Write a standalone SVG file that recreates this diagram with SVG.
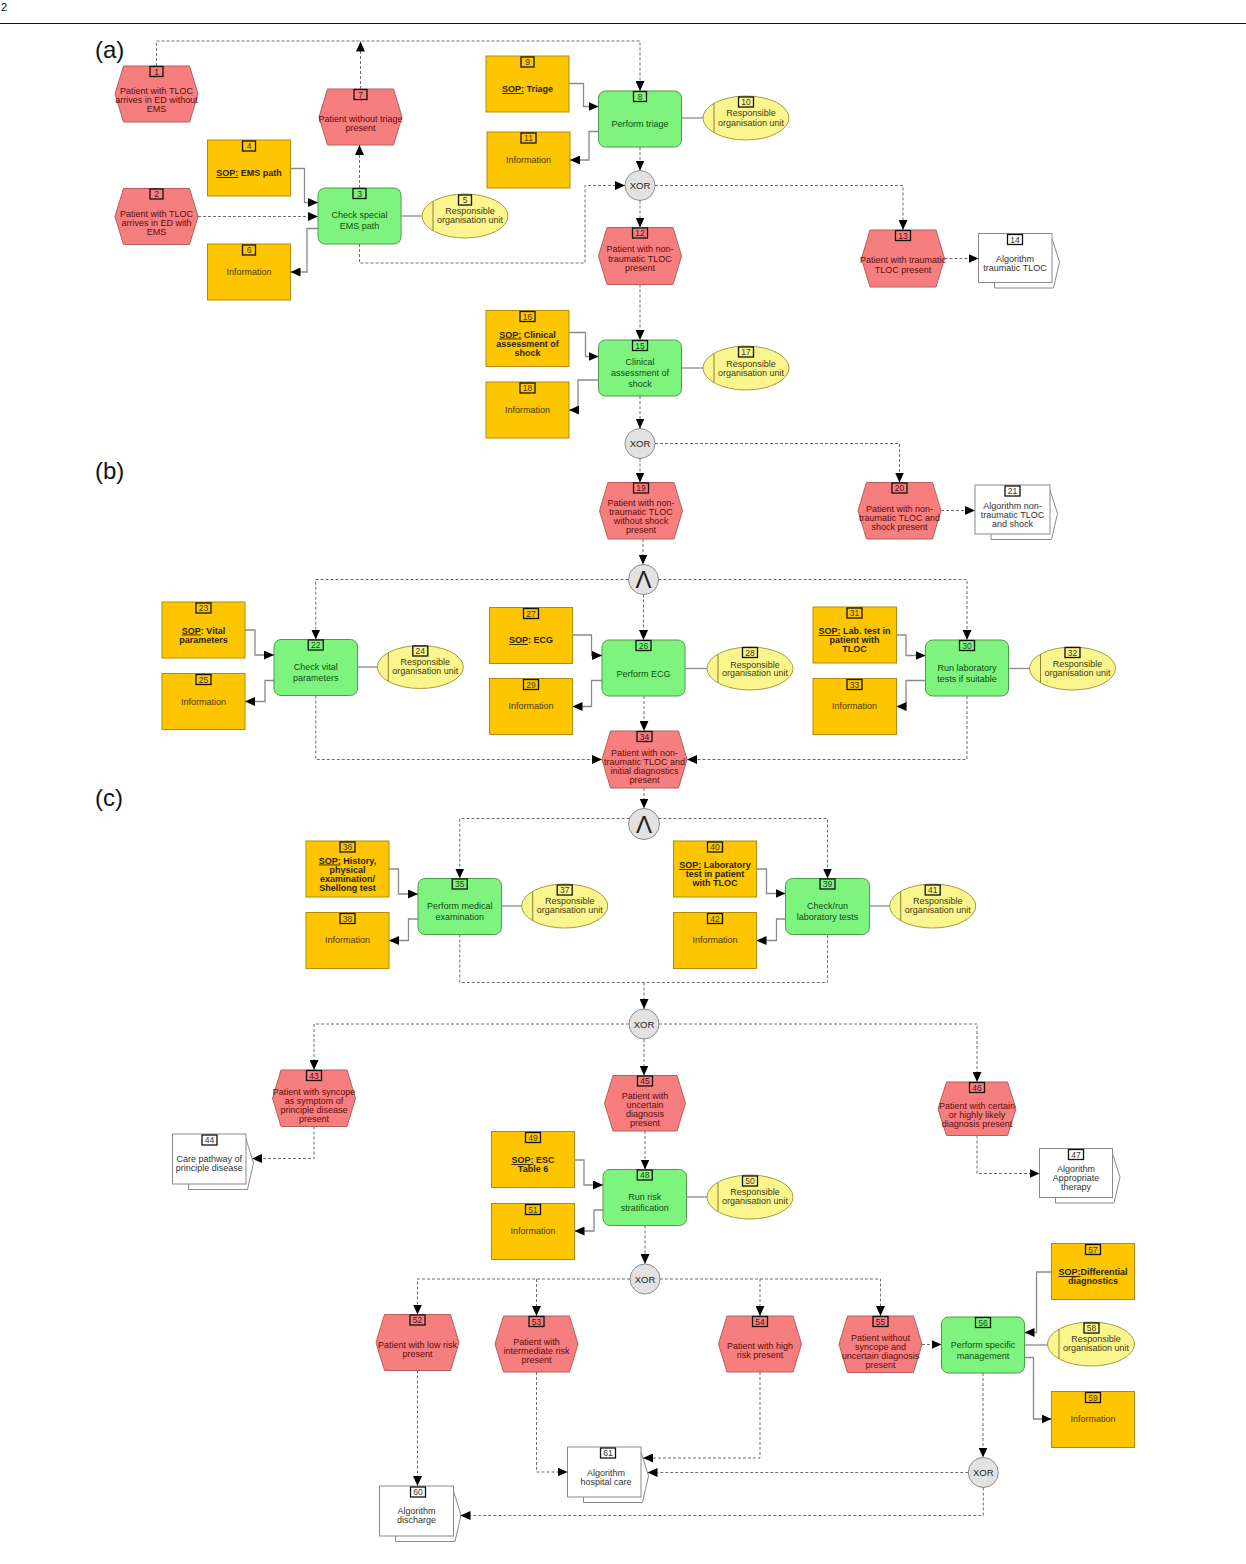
<svg xmlns="http://www.w3.org/2000/svg" width="1246" height="1564" viewBox="0 0 1246 1564">
<defs>
<style>
text{font-family:"Liberation Sans",Arial,Helvetica,sans-serif;font-size:9px;text-anchor:middle}
.ev{fill:#f77e7e;stroke:#b35f5f;stroke-width:1}
.evt{fill:#5a0d0d}
.fn{fill:#7ef47e;stroke:#4f9a4f;stroke-width:1}
.fnt{fill:#0e4d0e}
.bx{fill:#fec600;stroke:#b48c00;stroke-width:1}
.bxt{fill:#4a3800}
.sop{fill:#2a1f00;font-weight:bold}
.og{fill:#fbf58e;stroke:#a59c3d;stroke-width:1}
.ogl{fill:none;stroke:#8a8230;stroke-width:1}
.ogt{fill:#3d3b10}
.dc{fill:#fff;stroke:#8a8a8a;stroke-width:1}
.dct{fill:#333}
.nb{fill:none;stroke:#111;stroke-width:1.3}
.nt{font-size:8.5px}
.gw{fill:#e2e2e2;stroke:#8c8c8c;stroke-width:1}
.gwt{fill:#222;font-size:9.5px}
.and{fill:#222;font-size:24px}
.dash{fill:none;stroke:#6e6e6e;stroke-width:1;stroke-dasharray:3 2}
.sol{fill:none;stroke:#8a8a8a;stroke-width:1.3}
.lbl{font-size:24px;text-anchor:start;fill:#111}
</style>
<marker id="ah" markerWidth="10" markerHeight="9" refX="10" refY="4.5" orient="auto" markerUnits="userSpaceOnUse"><path d="M0,0 L10,4.5 L0,9 Z" fill="#000"/></marker>
<clipPath id="cr"><rect x="0" y="0" width="1135.5" height="1564"/></clipPath>
</defs>
<rect x="0" y="0" width="1246" height="1564" fill="#fff"/>
<text x="1" y="11" style="font-size:11px;text-anchor:start" fill="#111">2</text>
<line x1="0" y1="23.5" x2="1246" y2="23.5" stroke="#111" stroke-width="1.2"/>
<text class="lbl" x="95" y="57.5">(a)</text>
<text class="lbl" x="95" y="478.5">(b)</text>
<text class="lbl" x="95" y="805.5">(c)</text>

<g id="nodes">
<g id="n1"><polygon class="ev" points="115,94 123.5,66 189.5,66 198,94 189.5,122 123.5,122"/><rect class="nb" x="150" y="66.5" width="13" height="10"/><text class="evt nt" x="156.5" y="74.5">1</text><text class="evt"><tspan x="156.5" y="94">Patient with TLOC</tspan><tspan x="156.5" y="103">arrives in ED without</tspan><tspan x="156.5" y="112">EMS</tspan></text></g>
<g id="n2"><polygon class="ev" points="115,216.5 123.5,188.5 189.5,188.5 198,216.5 189.5,244.5 123.5,244.5"/><rect class="nb" x="150" y="189" width="13" height="10"/><text class="evt nt" x="156.5" y="197">2</text><text class="evt"><tspan x="156.5" y="217">Patient with TLOC</tspan><tspan x="156.5" y="226">arrives in ED with</tspan><tspan x="156.5" y="235">EMS</tspan></text></g>
<g id="n3"><rect class="fn" x="318" y="188" width="83" height="56" rx="7"/><rect class="nb" x="353" y="188.5" width="13" height="10"/><text class="fnt nt" x="359.5" y="196.5">3</text><text class="fnt"><tspan x="359.5" y="218">Check special</tspan><tspan x="359.5" y="229">EMS path</tspan></text></g>
<g id="n4"><rect class="bx" x="207.5" y="140" width="83" height="56"/><rect class="nb" x="242.5" y="141" width="13" height="10"/><text class="bxt nt" x="249" y="149">4</text><text class="sop" x="249" y="176"><tspan text-decoration="underline">SOP:</tspan> EMS path</text></g>
<g id="n5"><ellipse class="og" cx="465" cy="216" rx="43" ry="22"/><line class="ogl" x1="433" y1="201.3" x2="433" y2="230.7"/><rect class="nb" x="458.5" y="195" width="13" height="10"/><text class="ogt nt" x="465" y="203">5</text><text class="ogt"><tspan x="470" y="214">Responsible</tspan><tspan x="470" y="223">organisation unit</tspan></text></g>
<g id="n6"><rect class="bx" x="207.5" y="244" width="83" height="56"/><rect class="nb" x="242.5" y="245" width="13" height="10"/><text class="bxt nt" x="249" y="253">6</text><text class="bxt" x="249" y="275">Information</text></g>
<g id="n7"><polygon class="ev" points="319,117 327.5,89 393.5,89 402,117 393.5,145 327.5,145"/><rect class="nb" x="354" y="89.5" width="13" height="10"/><text class="evt nt" x="360.5" y="97.5">7</text><text class="evt"><tspan x="360.5" y="122">Patient without triage</tspan><tspan x="360.5" y="131">present</tspan></text></g>
<g id="n8"><rect class="fn" x="598.5" y="91" width="83" height="56" rx="7"/><rect class="nb" x="633.5" y="91.5" width="13" height="10"/><text class="fnt nt" x="640" y="99.5">8</text><text class="fnt" x="640" y="127">Perform triage</text></g>
<g id="n9"><rect class="bx" x="486" y="56" width="83" height="56"/><rect class="nb" x="521" y="57" width="13" height="10"/><text class="bxt nt" x="527.5" y="65">9</text><text class="sop" x="527.5" y="92"><tspan text-decoration="underline">SOP:</tspan> Triage</text></g>
<g id="n10"><ellipse class="og" cx="746" cy="118" rx="43" ry="22"/><line class="ogl" x1="714" y1="103.3" x2="714" y2="132.7"/><rect class="nb" x="738.5" y="97" width="15" height="10"/><text class="ogt nt" x="746" y="105">10</text><text class="ogt"><tspan x="751" y="116">Responsible</tspan><tspan x="751" y="125.5">organisation unit</tspan></text></g>
<g id="n11"><rect class="bx" x="487" y="132" width="83" height="56"/><rect class="nb" x="521" y="133" width="15" height="10"/><text class="bxt nt" x="528.5" y="141">11</text><text class="bxt" x="528.5" y="163">Information</text></g>
<g id="xor1"><circle class="gw" cx="640" cy="185.5" r="15"/><text class="gwt" x="640" y="189">XOR</text></g>
<g id="n12"><polygon class="ev" points="598.5,256 607,227.5 673,227.5 681.5,256 673,284.5 607,284.5"/><rect class="nb" x="632.5" y="228" width="15" height="10"/><text class="evt nt" x="640" y="236">12</text><text class="evt"><tspan x="640" y="252">Patient with non-</tspan><tspan x="640" y="261.5">traumatic TLOC</tspan><tspan x="640" y="270.5">present</tspan></text></g>
<g id="n13"><polygon class="ev" points="861.5,258.5 870,230 936,230 944.5,258.5 936,287 870,287"/><rect class="nb" x="895.5" y="230.5" width="15" height="10"/><text class="evt nt" x="903" y="238.5">13</text><text class="evt"><tspan x="903" y="263">Patient with traumatic</tspan><tspan x="903" y="272.5">TLOC present</tspan></text></g>
<g id="n14"><polygon class="dc" points="994.5,238.5 1052,238.5 1059.5,262 1053.5,288 994.5,288"/><rect class="dc" x="978.5" y="233.5" width="73.5" height="49"/><rect class="nb" x="1007.5" y="234.5" width="15" height="10"/><text class="dct nt" x="1015" y="242.5">14</text><text class="dct"><tspan x="1015" y="261.5">Algorithm</tspan><tspan x="1015" y="270.5">traumatic TLOC</tspan></text></g>
<g id="n15"><rect class="fn" x="598.5" y="340" width="83" height="56" rx="7"/><rect class="nb" x="632.5" y="340.5" width="15" height="10"/><text class="fnt nt" x="640" y="348.5">15</text><text class="fnt"><tspan x="640" y="365">Clinical</tspan><tspan x="640" y="376">assessment of</tspan><tspan x="640" y="387">shock</tspan></text></g>
<g id="n16"><rect class="bx" x="486" y="310.5" width="83" height="56"/><rect class="nb" x="520" y="311.5" width="15" height="10"/><text class="bxt nt" x="527.5" y="319.5">16</text><text class="sop"><tspan x="527.5" y="337.5"><tspan text-decoration="underline">SOP:</tspan> Clinical</tspan><tspan x="527.5" y="346.5">assessment of</tspan><tspan x="527.5" y="355.5">shock</tspan></text></g>
<g id="n17"><ellipse class="og" cx="746" cy="368" rx="43" ry="22"/><line class="ogl" x1="714" y1="353.3" x2="714" y2="382.7"/><rect class="nb" x="738.5" y="347" width="15" height="10"/><text class="ogt nt" x="746" y="355">17</text><text class="ogt"><tspan x="751" y="366.5">Responsible</tspan><tspan x="751" y="375.5">organisation unit</tspan></text></g>
<g id="n18"><rect class="bx" x="486" y="382" width="83" height="56"/><rect class="nb" x="520" y="383" width="15" height="10"/><text class="bxt nt" x="527.5" y="391">18</text><text class="bxt" x="527.5" y="413">Information</text></g>
<g id="xor2"><circle class="gw" cx="640" cy="443.5" r="15"/><text class="gwt" x="640" y="447">XOR</text></g>
<g id="n19"><polygon class="ev" points="599.5,510.75 608,482.5 674,482.5 682.5,510.75 674,539 608,539"/><rect class="nb" x="633.5" y="483" width="15" height="10"/><text class="evt nt" x="641" y="491">19</text><text class="evt"><tspan x="641" y="506">Patient with non-</tspan><tspan x="641" y="515">traumatic TLOC</tspan><tspan x="641" y="524">without shock</tspan><tspan x="641" y="533">present</tspan></text></g>
<g id="n20"><polygon class="ev" points="858,510.75 866.5,482.5 932.5,482.5 941,510.75 932.5,539 866.5,539"/><rect class="nb" x="892" y="483" width="15" height="10"/><text class="evt nt" x="899.5" y="491">20</text><text class="evt"><tspan x="899.5" y="511.5">Patient with non-</tspan><tspan x="899.5" y="520.5">traumatic TLOC and</tspan><tspan x="899.5" y="529.5">shock present</tspan></text></g>
<g id="n21"><polygon class="dc" points="991,490 1050,490 1057.5,513.5 1051.5,539.5 991,539.5"/><rect class="dc" x="975" y="485" width="75" height="49"/><rect class="nb" x="1005" y="486" width="15" height="10"/><text class="dct nt" x="1012.5" y="494">21</text><text class="dct"><tspan x="1012.5" y="509">Algorithm non-</tspan><tspan x="1012.5" y="518">traumatic TLOC</tspan><tspan x="1012.5" y="527">and shock</tspan></text></g>

<g id="and1"><circle class="gw" cx="643.5" cy="579.5" r="15"/><text class="and" x="643.5" y="588">Λ</text></g>
<g id="n22"><rect class="fn" x="274" y="639.5" width="83.5" height="56" rx="7"/><rect class="nb" x="308.25" y="640" width="15" height="10"/><text class="fnt nt" x="315.75" y="648">22</text><text class="fnt"><tspan x="315.75" y="670">Check vital</tspan><tspan x="315.75" y="681">parameters</tspan></text></g>
<g id="n23"><rect class="bx" x="162" y="602" width="83" height="56"/><rect class="nb" x="196" y="603" width="15" height="10"/><text class="bxt nt" x="203.5" y="611">23</text><text class="sop"><tspan x="203.5" y="633.5"><tspan text-decoration="underline">SOP</tspan>: Vital</tspan><tspan x="203.5" y="642.5">parameters</tspan></text></g>
<g id="n24"><ellipse class="og" cx="420.3" cy="667" rx="43" ry="21.5"/><line class="ogl" x1="388.3" y1="652.6" x2="388.3" y2="681.4"/><rect class="nb" x="412.8" y="646" width="15" height="10"/><text class="ogt nt" x="420.3" y="654">24</text><text class="ogt"><tspan x="425.3" y="665">Responsible</tspan><tspan x="425.3" y="674">organisation unit</tspan></text></g>
<g id="n25"><rect class="bx" x="162" y="673.5" width="83" height="56"/><rect class="nb" x="196" y="674.5" width="15" height="10"/><text class="bxt nt" x="203.5" y="682.5">25</text><text class="bxt" x="203.5" y="704.5">Information</text></g>
<g id="n26"><rect class="fn" x="602" y="640" width="83" height="56" rx="7"/><rect class="nb" x="636" y="640.5" width="15" height="10"/><text class="fnt nt" x="643.5" y="648.5">26</text><text class="fnt" x="643.5" y="676.5">Perform ECG</text></g>
<g id="n27"><rect class="bx" x="489.5" y="607.5" width="83" height="56"/><rect class="nb" x="523.5" y="608.5" width="15" height="10"/><text class="bxt nt" x="531" y="616.5">27</text><text class="sop" x="531" y="643"><tspan text-decoration="underline">SOP</tspan>: ECG</text></g>
<g id="n28"><ellipse class="og" cx="750" cy="668.5" rx="43" ry="21.5"/><line class="ogl" x1="718" y1="654.1" x2="718" y2="682.9"/><rect class="nb" x="742.5" y="647.5" width="15" height="10"/><text class="ogt nt" x="750" y="655.5">28</text><text class="ogt"><tspan x="755" y="667.5">Responsible</tspan><tspan x="755" y="676">organisation unit</tspan></text></g>
<g id="n29"><rect class="bx" x="489.5" y="678.5" width="83" height="56"/><rect class="nb" x="523.5" y="679.5" width="15" height="10"/><text class="bxt nt" x="531" y="687.5">29</text><text class="bxt" x="531" y="709">Information</text></g>
<g id="n30"><rect class="fn" x="925.5" y="640" width="83" height="56" rx="7"/><rect class="nb" x="959.5" y="640.5" width="15" height="10"/><text class="fnt nt" x="967" y="648.5">30</text><text class="fnt"><tspan x="967" y="671">Run laboratory</tspan><tspan x="967" y="681.5">tests if suitable</tspan></text></g>
<g id="n31"><rect class="bx" x="813" y="607" width="83.5" height="56"/><rect class="nb" x="847" y="608" width="15" height="10"/><text class="bxt nt" x="854.5" y="616">31</text><text class="sop"><tspan x="854.5" y="634"><tspan text-decoration="underline">SOP:</tspan> Lab. test in</tspan><tspan x="854.5" y="643">patient with</tspan><tspan x="854.5" y="652">TLOC</tspan></text></g>
<g id="n32"><ellipse class="og" cx="1072.5" cy="668.5" rx="43" ry="21.5"/><line class="ogl" x1="1040.5" y1="654.1" x2="1040.5" y2="682.9"/><rect class="nb" x="1065" y="647.5" width="15" height="10"/><text class="ogt nt" x="1072.5" y="655.5">32</text><text class="ogt"><tspan x="1077.5" y="666.5">Responsible</tspan><tspan x="1077.5" y="675.5">organisation unit</tspan></text></g>
<g id="n33"><rect class="bx" x="813" y="678.5" width="83.5" height="56"/><rect class="nb" x="847" y="679.5" width="15" height="10"/><text class="bxt nt" x="854.5" y="687.5">33</text><text class="bxt" x="854.5" y="709">Information</text></g>
<g id="n34"><polygon class="ev" points="602,759.5 610.5,731 678.5,731 687,759.5 678.5,788 610.5,788"/><rect class="nb" x="637" y="731.5" width="15" height="10"/><text class="evt nt" x="644.5" y="739.5">34</text><text class="evt"><tspan x="644.5" y="756">Patient with non-</tspan><tspan x="644.5" y="765">traumatic TLOC and</tspan><tspan x="644.5" y="774">initial diagnostics</tspan><tspan x="644.5" y="782.5">present</tspan></text></g>

<g id="and2"><circle class="gw" cx="644" cy="824" r="15.5"/><text class="and" x="644" y="832.5">Λ</text></g>
<g id="n35"><rect class="fn" x="418" y="878.5" width="83.5" height="56" rx="7"/><rect class="nb" x="452.25" y="879" width="15" height="10"/><text class="fnt nt" x="459.75" y="887">35</text><text class="fnt"><tspan x="459.75" y="909">Perform medical</tspan><tspan x="459.75" y="920">examination</tspan></text></g>
<g id="n36"><rect class="bx" x="306" y="841" width="83" height="56"/><rect class="nb" x="340" y="842" width="15" height="10"/><text class="bxt nt" x="347.5" y="850">36</text><text class="sop"><tspan x="347.5" y="863.5"><tspan text-decoration="underline">SOP:</tspan> History,</tspan><tspan x="347.5" y="872.5">physical</tspan><tspan x="347.5" y="881.5">examination/</tspan><tspan x="347.5" y="890.5">Shellong test</tspan></text></g>
<g id="n37"><ellipse class="og" cx="564.7" cy="906" rx="43" ry="22"/><line class="ogl" x1="532.7" y1="891.3" x2="532.7" y2="920.7"/><rect class="nb" x="557.2" y="885" width="15" height="10"/><text class="ogt nt" x="564.7" y="893">37</text><text class="ogt"><tspan x="569.7" y="904">Responsible</tspan><tspan x="569.7" y="913">organisation unit</tspan></text></g>
<g id="n38"><rect class="bx" x="306" y="912.5" width="83" height="56"/><rect class="nb" x="340" y="913.5" width="15" height="10"/><text class="bxt nt" x="347.5" y="921.5">38</text><text class="bxt" x="347.5" y="943">Information</text></g>
<g id="n39"><rect class="fn" x="785.5" y="878.5" width="84" height="56" rx="7"/><rect class="nb" x="820" y="879" width="15" height="10"/><text class="fnt nt" x="827.5" y="887">39</text><text class="fnt"><tspan x="827.5" y="909">Check/run</tspan><tspan x="827.5" y="920">laboratory tests</tspan></text></g>
<g id="n40"><rect class="bx" x="673.5" y="841" width="83" height="56"/><rect class="nb" x="707.5" y="842" width="15" height="10"/><text class="bxt nt" x="715" y="850">40</text><text class="sop"><tspan x="715" y="868"><tspan text-decoration="underline">SOP:</tspan> Laboratory</tspan><tspan x="715" y="877">test in patient</tspan><tspan x="715" y="886">with TLOC</tspan></text></g>
<g id="n41"><ellipse class="og" cx="932.7" cy="906" rx="43" ry="22"/><line class="ogl" x1="900.7" y1="891.3" x2="900.7" y2="920.7"/><rect class="nb" x="925.2" y="885" width="15" height="10"/><text class="ogt nt" x="932.7" y="893">41</text><text class="ogt"><tspan x="937.7" y="904">Responsible</tspan><tspan x="937.7" y="913">organisation unit</tspan></text></g>
<g id="n42"><rect class="bx" x="673.5" y="912.5" width="83" height="56"/><rect class="nb" x="707.5" y="913.5" width="15" height="10"/><text class="bxt nt" x="715" y="921.5">42</text><text class="bxt" x="715" y="943">Information</text></g>
<g id="xor3"><circle class="gw" cx="644" cy="1024" r="15"/><text class="gwt" x="644" y="1027.5">XOR</text></g>
<g id="n43"><polygon class="ev" points="272.5,1098.25 281,1070 347,1070 355.5,1098.25 347,1126.5 281,1126.5"/><rect class="nb" x="306.5" y="1070.5" width="15" height="10"/><text class="evt nt" x="314" y="1078.5">43</text><text class="evt"><tspan x="314" y="1094.5">Patient with syncope</tspan><tspan x="314" y="1103.5">as symptom of</tspan><tspan x="314" y="1112.5">principle disease</tspan><tspan x="314" y="1121.5">present</tspan></text></g>
<g id="n44"><polygon class="dc" points="188.5,1139 246,1139 253.5,1163 247.5,1189.5 188.5,1189.5"/><rect class="dc" x="172.5" y="1134" width="73.5" height="50"/><rect class="nb" x="202" y="1135" width="15" height="10"/><text class="dct nt" x="209.5" y="1143">44</text><text class="dct"><tspan x="209.25" y="1161.5">Care pathway of</tspan><tspan x="209.25" y="1171">principle disease</tspan></text></g>
<g id="n45"><polygon class="ev" points="604.5,1103.25 613,1075.5 677,1075.5 685.5,1103.25 677,1131 613,1131"/><rect class="nb" x="637.5" y="1076" width="15" height="10"/><text class="evt nt" x="645" y="1084">45</text><text class="evt"><tspan x="645" y="1099">Patient with</tspan><tspan x="645" y="1108">uncertain</tspan><tspan x="645" y="1117">diagnosis</tspan><tspan x="645" y="1126">present</tspan></text></g>
<g id="n46"><polygon class="ev" points="938,1108.75 946.5,1082 1007.5,1082 1016,1108.75 1007.5,1135.5 946.5,1135.5"/><rect class="nb" x="969.5" y="1082.5" width="15" height="10"/><text class="evt nt" x="977" y="1090.5">46</text><text class="evt"><tspan x="977" y="1109">Patient with certain</tspan><tspan x="977" y="1118">or highly likely</tspan><tspan x="977" y="1127">diagnosis present</tspan></text></g>
<g id="n47"><polygon class="dc" points="1055.5,1153.5 1112.5,1153.5 1120,1177 1114,1203 1055.5,1203"/><rect class="dc" x="1039.5" y="1148.5" width="73" height="49"/><rect class="nb" x="1068.5" y="1149.5" width="15" height="10"/><text class="dct nt" x="1076" y="1157.5">47</text><text class="dct"><tspan x="1076" y="1172">Algorithm</tspan><tspan x="1076" y="1181">Appropriate</tspan><tspan x="1076" y="1190">therapy</tspan></text></g>
<g id="n48"><rect class="fn" x="603" y="1169.5" width="83.5" height="56" rx="7"/><rect class="nb" x="637.25" y="1170" width="15" height="10"/><text class="fnt nt" x="644.75" y="1178">48</text><text class="fnt"><tspan x="644.75" y="1200">Run risk</tspan><tspan x="644.75" y="1211">stratification</tspan></text></g>
<g id="n49"><rect class="bx" x="491.5" y="1131.5" width="83" height="56"/><rect class="nb" x="525.5" y="1132.5" width="15" height="10"/><text class="bxt nt" x="533" y="1140.5">49</text><text class="sop"><tspan x="533" y="1163"><tspan text-decoration="underline">SOP:</tspan> ESC</tspan><tspan x="533" y="1172">Table 6</tspan></text></g>
<g id="n50"><ellipse class="og" cx="750" cy="1197" rx="43" ry="22"/><line class="ogl" x1="718" y1="1182.3" x2="718" y2="1211.7"/><rect class="nb" x="742.5" y="1176" width="15" height="10"/><text class="ogt nt" x="750" y="1184">50</text><text class="ogt"><tspan x="755" y="1195">Responsible</tspan><tspan x="755" y="1204">organisation unit</tspan></text></g>
<g id="n51"><rect class="bx" x="491.5" y="1203.5" width="83" height="56"/><rect class="nb" x="525.5" y="1204.5" width="15" height="10"/><text class="bxt nt" x="533" y="1212.5">51</text><text class="bxt" x="533" y="1234">Information</text></g>
<g id="xor4"><circle class="gw" cx="645" cy="1279" r="15"/><text class="gwt" x="645" y="1282.5">XOR</text></g>
<g id="n52"><polygon class="ev" points="376,1342.5 384.5,1314.5 450.5,1314.5 459,1342.5 450.5,1370.5 384.5,1370.5"/><rect class="nb" x="410" y="1315" width="15" height="10"/><text class="evt nt" x="417.5" y="1323">52</text><text class="evt"><tspan x="417.5" y="1348">Patient with low risk</tspan><tspan x="417.5" y="1357">present</tspan></text></g>
<g id="n53"><polygon class="ev" points="495,1344 503.5,1316 569.5,1316 578,1344 569.5,1372 503.5,1372"/><rect class="nb" x="529" y="1316.5" width="15" height="10"/><text class="evt nt" x="536.5" y="1324.5">53</text><text class="evt"><tspan x="536.5" y="1344.5">Patient with</tspan><tspan x="536.5" y="1353.5">intermediate risk</tspan><tspan x="536.5" y="1362.5">present</tspan></text></g>
<g id="n54"><polygon class="ev" points="718.5,1344 727,1316 793,1316 801.5,1344 793,1372 727,1372"/><rect class="nb" x="752.5" y="1316.5" width="15" height="10"/><text class="evt nt" x="760" y="1324.5">54</text><text class="evt"><tspan x="760" y="1349">Patient with high</tspan><tspan x="760" y="1358">risk present</tspan></text></g>
<g id="n55"><polygon class="ev" points="839,1344.25 847.5,1316 913.5,1316 922,1344.25 913.5,1372.5 847.5,1372.5"/><rect class="nb" x="873" y="1316.5" width="15" height="10"/><text class="evt nt" x="880.5" y="1324.5">55</text><text class="evt"><tspan x="880.5" y="1340.5">Patient without</tspan><tspan x="880.5" y="1350">syncope and</tspan><tspan x="880.5" y="1359">uncertain diagnosis</tspan><tspan x="880.5" y="1368">present</tspan></text></g>
<g id="n56"><rect class="fn" x="941.5" y="1317" width="83" height="56" rx="7"/><rect class="nb" x="975.5" y="1317.5" width="15" height="10"/><text class="fnt nt" x="983" y="1325.5">56</text><text class="fnt"><tspan x="983" y="1347.5">Perform specific</tspan><tspan x="983" y="1358.5">management</tspan></text></g>
<g id="n57" clip-path="url(#cr)"><rect class="bx" x="1051.5" y="1243.5" width="83" height="56"/><rect class="nb" x="1085.5" y="1244.5" width="15" height="10"/><text class="bxt nt" x="1093" y="1252.5">57</text><text class="sop"><tspan x="1093" y="1275"><tspan text-decoration="underline">SOP:</tspan>Differential</tspan><tspan x="1093" y="1284">diagnostics</tspan></text></g>
<g id="n58" clip-path="url(#cr)"><ellipse class="og" cx="1091" cy="1344" rx="43.5" ry="22"/><line class="ogl" x1="1059" y1="1329.1" x2="1059" y2="1358.9"/><rect class="nb" x="1084" y="1323" width="15" height="10"/><text class="ogt nt" x="1091.5" y="1331">58</text><text class="ogt"><tspan x="1096" y="1342">Responsible</tspan><tspan x="1096" y="1351">organisation unit</tspan></text></g>
<g id="n59" clip-path="url(#cr)"><rect class="bx" x="1051.5" y="1391.5" width="83" height="56"/><rect class="nb" x="1085.5" y="1392.5" width="15" height="10"/><text class="bxt nt" x="1093" y="1400.5">59</text><text class="bxt" x="1093" y="1422">Information</text></g>
<g id="xor5"><circle class="gw" cx="983.3" cy="1472.5" r="15"/><text class="gwt" x="983.3" y="1476">XOR</text></g>
<g id="n60"><polygon class="dc" points="395.5,1491 453.5,1491 461,1515 455,1541.5 395.5,1541.5"/><rect class="dc" x="379.5" y="1486" width="74" height="50"/><rect class="nb" x="410.5" y="1487" width="15" height="10"/><text class="dct nt" x="418" y="1495">60</text><text class="dct"><tspan x="416.5" y="1514">Algorithm</tspan><tspan x="416.5" y="1523">discharge</tspan></text></g>
<g id="n61"><polygon class="dc" points="583.5,1452 641,1452 648.5,1476 642.5,1502.5 583.5,1502.5"/><rect class="dc" x="567.5" y="1447" width="73.5" height="50"/><rect class="nb" x="600.5" y="1448" width="15" height="10"/><text class="dct nt" x="608" y="1456">61</text><text class="dct"><tspan x="606" y="1475.5">Algorithm</tspan><tspan x="606" y="1484.5">hospital care</tspan></text></g>
</g>

<g id="connectors">
<g class="dash" marker-end="url(#ah)">
<path d="M156.5,66 V41 H640 V91"/>
<path d="M360.5,89 V41.5"/>
<path d="M359.5,188 V145"/>
<path d="M198,216.5 H318"/>
<path d="M359.5,244 V263 H585 V185.5 H625"/>
<path d="M640,147 V170.5"/>
<path d="M640,200.5 V227.5"/>
<path d="M655,185.5 H903 V230"/>
<path d="M944.5,258.5 H978.5"/>
<path d="M640,284.5 V340"/>
<path d="M640,396 V428.5"/>
<path d="M640,458.5 V482.5"/>
<path d="M655,443.5 H899.5 V482.5"/>
<path d="M941,510.5 H975"/>
<path d="M643,539 V564.5"/>
<path d="M628.5,579.5 H315.75 V639.5"/>
<path d="M643.5,594.5 V640"/>
<path d="M658.5,579.5 H967 V640"/>
<path d="M315.75,695.5 V759.5 H602"/>
<path d="M644,696 V731"/>
<path d="M967,696 V759.5 H687"/>
<path d="M644,788 V808.5"/>
<path d="M629.5,818.5 H459.75 V878.5"/>
<path d="M658.5,818.5 H827.5 V878.5"/>
<path d="M644,982.5 V1009"/>
<path d="M629,1024 H314 V1070"/>
<path d="M644,1039 V1075.5"/>
<path d="M659,1024 H977 V1082"/>
<path d="M314,1126.5 V1158.5 H252"/>
<path d="M977,1135.5 V1173.5 H1039.5"/>
<path d="M645,1131 V1169.5"/>
<path d="M645,1225.5 V1264"/>
<path d="M630,1279 H417.5 V1314.5"/>
<path d="M536.5,1279 V1316"/>
<path d="M660,1279 H880.5 V1316"/>
<path d="M760,1279 V1316"/>
<path d="M922,1344.5 H941.5"/>
<path d="M983,1373 V1457.5"/>
<path d="M968.3,1472.5 H647.5"/>
<path d="M983.3,1487.5 V1515.5 H460.5"/>
<path d="M417.5,1370.5 V1486"/>
<path d="M536.5,1372 V1472 H567.5"/>
<path d="M760,1372 V1458 H643"/>
</g>
<path class="dash" d="M459.75,934.5 V982.5 H827.5 V934.5"/>
<g class="sol" marker-end="url(#ah)">
<path d="M290.5,168.5 H304.5 V202.5 H318"/>
<path d="M318,228.5 H307 V272 H290.5"/>
<path d="M569,83.5 H583.5 V106.5 H598.5"/>
<path d="M598.5,131.5 H589 V160 H570"/>
<path d="M569,332.5 H585.5 V356.5 H598.5"/>
<path d="M598.5,380 H578 V410 H569"/>
<path d="M245,630 H255 V655 H274"/>
<path d="M274,680.5 H265 V701.5 H245"/>
<path d="M572.5,635 H591.5 V655.5 H602"/>
<path d="M602,680.5 H591.5 V706.5 H572.5"/>
<path d="M896.5,635 H906 V655.5 H925.5"/>
<path d="M925.5,680.5 H906 V706.5 H896.5"/>
<path d="M389,869 H398.5 V894 H418"/>
<path d="M418,919 H408.5 V940.5 H389"/>
<path d="M756.5,869 H766.5 V893.5 H785.5"/>
<path d="M785.5,919 H776.5 V940.5 H756.5"/>
<path d="M574.5,1160 H584 V1185 H603"/>
<path d="M603,1210 H594 V1231 H574.5"/>
<path d="M1051.5,1272 H1036.5 V1332.5 H1024.5"/>
<path d="M1024.5,1357.5 H1033.5 V1419 H1051.5"/>
</g>
<g class="sol">
<path d="M401,216 H422"/>
<path d="M681.5,118 H703"/>
<path d="M681.5,368 H703"/>
<path d="M357.5,667 H377.3"/>
<path d="M685,668.5 H707"/>
<path d="M1008.5,668.5 H1029.5"/>
<path d="M501.5,906 H521.7"/>
<path d="M869.5,906 H889.7"/>
<path d="M686.5,1197 H707"/>
<path d="M1024.5,1345 H1047.5"/>
</g>
</g>
</svg>
